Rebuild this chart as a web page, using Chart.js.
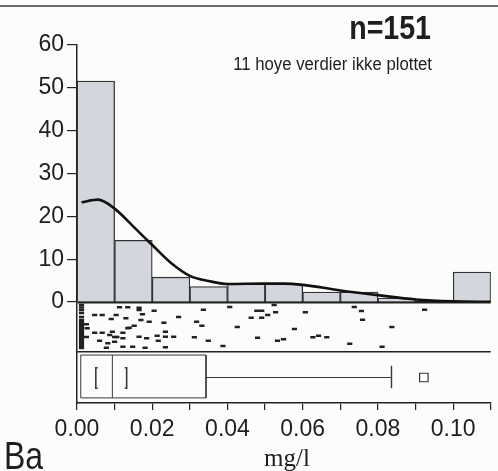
<!DOCTYPE html>
<html>
<head>
<meta charset="utf-8">
<script src="https://cdn.jsdelivr.net/npm/chart.js@4.4.1/dist/chart.umd.min.js"></script>
<style>
  html, body { margin: 0; padding: 0; background: #fcfcfb; }
  #wrap { width: 498px; height: 471px; position: relative; }
</style>
</head>
<body>
<div id="wrap"><canvas id="hist"></canvas></div>
<script>
// histogram: bins of 0.01 mg/l, height in percent
const binCenters = [0.005, 0.015, 0.025, 0.035, 0.045, 0.055, 0.065, 0.075, 0.085, 0.095, 0.105];
const binPercent = [51.6, 14.4, 5.8, 3.6, 4.2, 4.2, 2.3, 2.3, 0.9, 0, 7.0];

// smoothed density line
const densX = [0.0012, 0.0056, 0.01, 0.015, 0.02, 0.025, 0.03, 0.035, 0.04, 0.05, 0.055, 0.06, 0.07, 0.08, 0.09, 0.10, 0.11];
const densY = [23.3, 23.9, 21.8, 17.6, 13.3, 9.1, 6.1, 4.9, 4.2, 4.3, 4.3, 4.0, 2.7, 1.6, 0.6, 0.15, 0.05];

// one-dimensional scatter (value, random vertical jitter 0..1)
const stripX = [
  0.0012, 0.0012, 0.0012, 0.0012, 0.0012, 0.0012, 0.0012, 0.0012, 0.0012, 0.0012,
  0.0012, 0.0012, 0.0012, 0.0012, 0.0012, 0.0012, 0.0012, 0.0012, 0.0012, 0.0012,
  0.0113, 0.0135, 0.0165, 0.0165, 0.0205, 0.0336, 0.0406, 0.0478, 0.0491, 0.0524,
  0.0528, 0.0607, 0.0737, 0.0756, 0.0924, 0.0047, 0.0067, 0.0104, 0.0174, 0.0091,
  0.0130, 0.0170, 0.0192, 0.0270, 0.0231, 0.0318, 0.0463, 0.0491, 0.0507, 0.0759,
  0.0332, 0.0426, 0.0139, 0.0152, 0.0025, 0.0027, 0.0578, 0.0837, 0.0047, 0.0067,
  0.0094, 0.0087, 0.0122, 0.0135, 0.0235, 0.0025, 0.0165, 0.0100, 0.0106, 0.0122,
  0.0185, 0.0213, 0.0257, 0.0312, 0.0349, 0.0235, 0.0216, 0.0060, 0.0100, 0.0480,
  0.0533, 0.0549, 0.0627, 0.0642, 0.0664, 0.0725, 0.0082, 0.0078, 0.0122, 0.0148,
  0.0181, 0.0235, 0.0388, 0.0811
];
const stripY = [
  0.94, 0.89, 0.84, 0.78, 0.70, 0.64, 0.60, 0.56, 0.52, 0.48,
  0.44, 0.40, 0.36, 0.32, 0.28, 0.24, 0.20, 0.16, 0.12, 0.08,
  0.894, 0.894, 0.886, 0.840, 0.826, 0.846, 0.900, 0.826, 0.826, 0.940,
  0.794, 0.794, 0.900, 0.820, 0.846, 0.740, 0.740, 0.740, 0.754, 0.660,
  0.674, 0.640, 0.606, 0.700, 0.586, 0.606, 0.686, 0.686, 0.740, 0.646,
  0.526, 0.500, 0.486, 0.526, 0.554, 0.474, 0.460, 0.500, 0.386, 0.386,
  0.406, 0.340, 0.386, 0.474, 0.406, 0.300, 0.306, 0.300, 0.300, 0.274,
  0.274, 0.326, 0.306, 0.294, 0.226, 0.306, 0.226, 0.226, 0.206, 0.286,
  0.226, 0.254, 0.294, 0.326, 0.294, 0.166, 0.174, 0.086, 0.106, 0.106,
  0.086, 0.094, 0.120, 0.106
];

// box plot statistics (mg/l)
const boxQ1 = 0.001;
const boxMedian = 0.0094;
const boxQ3 = 0.0343;
const medianCI = [0.005, 0.0132];
const whiskerHigh = 0.0836;
const outliers = [0.0922];

const countLabel = 'n=151';
const noteLabel = '11 hoye verdier ikke plottet';
const elementLabel = 'Ba';
const unitLabel = 'mg/l';

const sans = "'Liberation Sans', Arial, sans-serif";
const ink = '#1e1e1e';

// box drawn in the lower panel, vertical extent as fraction of the panel
const boxTop = 0.94, boxBottom = 0.10, boxMid = 0.5;
const capTop = 0.73, capBottom = 0.29;
const arm = 0.0005;

function lineSet(points, width) {
  return {
    type: 'line',
    data: points.map(p => ({ x: p[0], y: p[1] })),
    yAxisID: 'yBox',
    borderColor: '#3a3a3a',
    borderWidth: width || 1,
    pointRadius: 0,
    tension: 0,
    fill: false
  };
}

const datasets = [
  {
    type: 'line',
    data: densX.map((x, i) => ({ x: x, y: densY[i] })),
    yAxisID: 'y',
    borderColor: '#111',
    borderWidth: 2.6,
    pointRadius: 0,
    cubicInterpolationMode: 'monotone',
    fill: false
  },
  {
    type: 'bar',
    data: binCenters.map((x, i) => ({ x: x, y: binPercent[i] })),
    yAxisID: 'y',
    backgroundColor: '#d3d7dd',
    borderColor: '#333',
    borderWidth: 1.3,
    barPercentage: 1,
    categoryPercentage: 1
  },
  {
    type: 'scatter',
    data: stripX.map((x, i) => ({ x: x, y: stripY[i] })),
    yAxisID: 'yStrip',
    pointStyle: 'line',
    radius: 2.6,
    borderWidth: 2.4,
    borderColor: '#222'
  },
  lineSet([[boxQ1, boxBottom], [boxQ1, boxTop], [boxQ3, boxTop], [boxQ3, boxBottom], [boxQ1, boxBottom]]),
  lineSet([[boxMedian, boxBottom], [boxMedian, boxTop]]),
  lineSet([[medianCI[0] + arm, capTop - 0.04], [medianCI[0], capTop - 0.04], [medianCI[0], capBottom], [medianCI[0] + arm, capBottom]], 1.6),
  lineSet([[medianCI[1] - arm, capTop - 0.04], [medianCI[1], capTop - 0.04], [medianCI[1], capBottom], [medianCI[1] - arm, capBottom]], 1.6),
  lineSet([[boxQ3, boxMid], [whiskerHigh, boxMid]]),
  lineSet([[whiskerHigh, capTop], [whiskerHigh, capBottom]], 1.4),
  {
    type: 'scatter',
    data: outliers.map(x => ({ x: x, y: boxMid })),
    yAxisID: 'yBox',
    pointStyle: 'rect',
    radius: 6,
    borderWidth: 1.2,
    borderColor: '#333',
    backgroundColor: '#fff'
  }
];

// condensed text: draw with a horizontal squeeze
function narrowText(c, text, x, y, font, align, squeeze) {
  c.save();
  c.font = font;
  c.textAlign = align;
  c.translate(x, y);
  c.scale(squeeze, 1);
  c.fillText(text, 0, 0);
  c.restore();
}

const textPlugin = {
  id: 'textPlugin',
  afterDraw(chart) {
    const c = chart.ctx;
    c.save();
    c.strokeStyle = '#6a6a6a';
    c.lineWidth = 2;
    c.beginPath();
    c.moveTo(0, 6);
    c.lineTo(chart.width, 6);
    c.stroke();

    c.fillStyle = ink;
    c.textBaseline = 'alphabetic';
    narrowText(c, countLabel, 431, 39, 'bold 34px ' + sans, 'right', 0.84);
    narrowText(c, noteLabel, 432, 70, '18px ' + sans, 'right', 0.93);
    narrowText(c, elementLabel, 4, 469, '39px ' + sans, 'left', 0.82);

    c.textAlign = 'center';
    c.font = "25px 'Liberation Serif', 'Times New Roman', serif";
    c.fillText(unitLabel, 287, 466);
    c.restore();
  }
};

const histConfig = {
  type: 'bar',
  data: { datasets: datasets },
  options: {
    responsive: true,
    maintainAspectRatio: false,
    animation: false,
    events: [],
    layout: { padding: { top: 45, right: 1, bottom: 0, left: 0 } },
    plugins: {
      legend: { display: false },
      tooltip: { enabled: false }
    },
    scales: {
      x: {
        type: 'linear',
        min: 0,
        max: 0.11,
        offset: false,
        ticks: {
          stepSize: 0.01,
          autoSkip: false,
          maxRotation: 0,
          padding: 6,
          color: ink,
          font: { family: sans, size: 23 },
          callback: (v, i) => (i % 2 === 0 ? v.toFixed(2) : '')
        },
        grid: { drawOnChartArea: false, offset: false, tickLength: 7, color: '#222', lineWidth: 1.2 },
        border: { color: '#222', width: 1.5 },
        afterFit: s => { s.height = 68; }
      },
      y: {
        stack: 'panels',
        stackWeight: 257,
        weight: 3,
        position: 'left',
        min: 0,
        max: 60,
        ticks: {
          stepSize: 10,
          autoSkip: false,
          padding: 3,
          color: ink,
          font: { family: sans, size: 23 }
        },
        grid: { drawOnChartArea: false, tickLength: 10, color: '#222', lineWidth: 1.2 },
        border: { color: '#222', width: 1.5 },
        afterFit: s => { s.width = 77; }
      },
      yStrip: {
        type: 'linear',
        stack: 'panels',
        stackWeight: 50,
        weight: 2,
        position: 'left',
        min: 0,
        max: 1,
        ticks: { display: false, stepSize: 1 },
        grid: {
          drawTicks: false,
          tickLength: 0,
          color: '#222',
          lineWidth: ctx => (ctx.tick && ctx.tick.value === 1 ? 2.4 : 1.4)
        },
        border: { color: '#222', width: 1.5 }
      },
      yBox: {
        type: 'linear',
        stack: 'panels',
        stackWeight: 51,
        weight: 1,
        position: 'left',
        min: 0,
        max: 1,
        ticks: { display: false },
        grid: { display: false },
        border: { color: '#222', width: 1.5 }
      }
    }
  },
  plugins: [textPlugin]
};

const histCtx = document.getElementById('hist');
window.histChart = new Chart(histCtx, histConfig);
</script>
</body>
</html>
